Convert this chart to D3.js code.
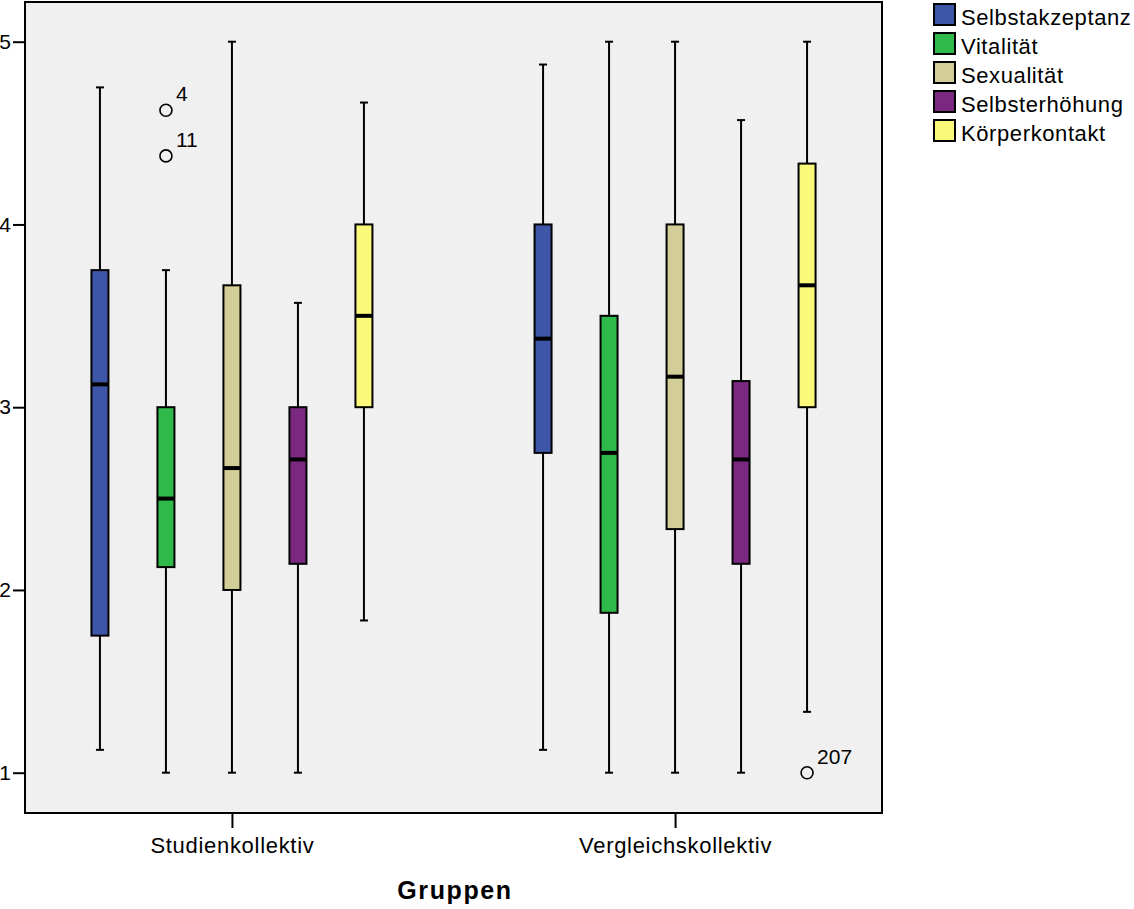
<!DOCTYPE html>
<html>
<head>
<meta charset="utf-8">
<script src="https://cdn.jsdelivr.net/npm/d3@7"></script>
<style>
  html, body { margin: 0; padding: 0; background: #fff; }
  text { font-family: "Liberation Sans", Arial, sans-serif; }
</style>
</head>
<body>
<svg id="chart" width="1134" height="909"></svg>
<script>
const groups = ["Studienkollektiv", "Vergleichskollektiv"];
const series = ["Selbstakzeptanz", "Vitalität", "Sexualität", "Selbsterhöhung", "Körperkontakt"];
const colors = ["#3e56a8", "#2eb94a", "#d3ce97", "#7b2880", "#fbf979"];
const yTicks = [1, 2, 3, 4, 5];

// per group: values per series
const whiskerLow  = [[1.125, 1.0, 1.0, 1.0, 1.833], [1.125, 1.0, 1.0, 1.0, 1.333]];
const q1          = [[1.75, 2.125, 2.0, 2.143, 3.0], [2.75, 1.875, 2.333, 2.143, 3.0]];
const median      = [[3.125, 2.5, 2.667, 2.714, 3.5], [3.375, 2.75, 3.167, 2.714, 3.667]];
const q3          = [[3.75, 3.0, 3.667, 3.0, 4.0], [4.0, 3.5, 4.0, 3.143, 4.333]];
const whiskerHigh = [[4.75, 3.75, 5.0, 3.571, 4.667], [4.875, 5.0, 5.0, 4.571, 5.0]];

const outlierGroup  = [0, 0, 1];
const outlierSeries = [1, 1, 4];
const outlierValue  = [4.625, 4.375, 1.0];
const outlierLabel  = ["4", "11", "207"];

const svg = d3.select("#chart");
const plot = { left: 25, top: 2, right: 882, bottom: 813 };

const x = d3.scalePoint().domain(groups).range([plot.left, plot.right]).padding(0.467);
const xs = d3.scalePoint().domain(series).range([-132, 132]);
const y = d3.scaleLinear().domain([1, 5]).range([772.7, 41.7]);

const boxW = 17, capW = 8;

// plot background
svg.append("rect")
  .attr("x", plot.left).attr("y", plot.top)
  .attr("width", plot.right - plot.left).attr("height", plot.bottom - plot.top)
  .attr("fill", "#f0f0f0");

// boxes
const rows = [];
groups.forEach((g, gi) => series.forEach((s, si) => rows.push({
  g, s, gi, si,
  lo: whiskerLow[gi][si], q1: q1[gi][si], med: median[gi][si], q3: q3[gi][si], hi: whiskerHigh[gi][si]
})));

const bx = svg.append("g");
rows.forEach(d => {
  const cx = x(d.g) + xs(d.s);
  const g = bx.append("g");
  g.append("line").attr("x1", cx).attr("x2", cx).attr("y1", y(d.hi)).attr("y2", y(d.q3))
    .attr("stroke", "#000").attr("stroke-width", 2);
  g.append("line").attr("x1", cx).attr("x2", cx).attr("y1", y(d.q1)).attr("y2", y(d.lo))
    .attr("stroke", "#000").attr("stroke-width", 2);
  g.append("line").attr("x1", cx - capW / 2).attr("x2", cx + capW / 2).attr("y1", y(d.hi)).attr("y2", y(d.hi))
    .attr("stroke", "#000").attr("stroke-width", 2);
  g.append("line").attr("x1", cx - capW / 2).attr("x2", cx + capW / 2).attr("y1", y(d.lo)).attr("y2", y(d.lo))
    .attr("stroke", "#000").attr("stroke-width", 2);
  g.append("rect").attr("x", cx - boxW / 2).attr("y", y(d.q3))
    .attr("width", boxW).attr("height", y(d.q1) - y(d.q3))
    .attr("fill", colors[d.si]).attr("stroke", "#000").attr("stroke-width", 2);
  g.append("line").attr("x1", cx - boxW / 2).attr("x2", cx + boxW / 2).attr("y1", y(d.med)).attr("y2", y(d.med))
    .attr("stroke", "#000").attr("stroke-width", 4);
});

// outliers
outlierValue.forEach((v, i) => {
  const cx = x(groups[outlierGroup[i]]) + xs(series[outlierSeries[i]]);
  const cy = y(v);
  svg.append("circle").attr("cx", cx).attr("cy", cy).attr("r", 6)
    .attr("fill", "none").attr("stroke", "#000").attr("stroke-width", 1.6);
  svg.append("text").attr("x", cx + 10).attr("y", cy - 9)
    .attr("font-size", 21).text(outlierLabel[i]);
});

// frame
svg.append("rect")
  .attr("x", plot.left).attr("y", plot.top)
  .attr("width", plot.right - plot.left).attr("height", plot.bottom - plot.top)
  .attr("fill", "none").attr("stroke", "#000").attr("stroke-width", 2);

// y axis
const yAxis = d3.axisLeft(y).tickValues(yTicks).tickSize(12).tickPadding(2).tickFormat(d3.format("d"));
const ya = svg.append("g").attr("transform", `translate(${plot.left},0)`).call(yAxis);
ya.select(".domain").remove();
ya.selectAll(".tick line").attr("stroke", "#000").attr("stroke-width", 2);
ya.selectAll(".tick text").attr("font-size", 21).attr("font-family", "Liberation Sans, Arial, sans-serif")
  .attr("fill", "#000");

// x axis
const xAxis = d3.axisBottom(x).tickSize(15).tickPadding(9);
const xa = svg.append("g").attr("transform", `translate(0,${plot.bottom})`).call(xAxis);
xa.select(".domain").remove();
xa.selectAll(".tick line").attr("stroke", "#000").attr("stroke-width", 2);
xa.selectAll(".tick text").attr("font-size", 22).attr("letter-spacing", "0.7px")
  .attr("font-family", "Liberation Sans, Arial, sans-serif").attr("fill", "#000");

// x title
svg.append("text").attr("x", 455).attr("y", 899)
  .attr("text-anchor", "middle").attr("font-size", 25).attr("font-weight", "bold")
  .attr("letter-spacing", "1.6px").text("Gruppen");

// legend
const lg = svg.append("g").attr("transform", "translate(934,4)");
series.forEach((s, i) => {
  const r = lg.append("g").attr("transform", `translate(0,${i * 29})`);
  r.append("rect").attr("x", 0).attr("y", 0).attr("width", 21).attr("height", 21)
    .attr("fill", colors[i]).attr("stroke", "#000").attr("stroke-width", 2);
  r.append("text").attr("x", 27).attr("y", 21).attr("font-size", 22).attr("letter-spacing", "0.6px").text(s);
});
</script>
</body>
</html>
